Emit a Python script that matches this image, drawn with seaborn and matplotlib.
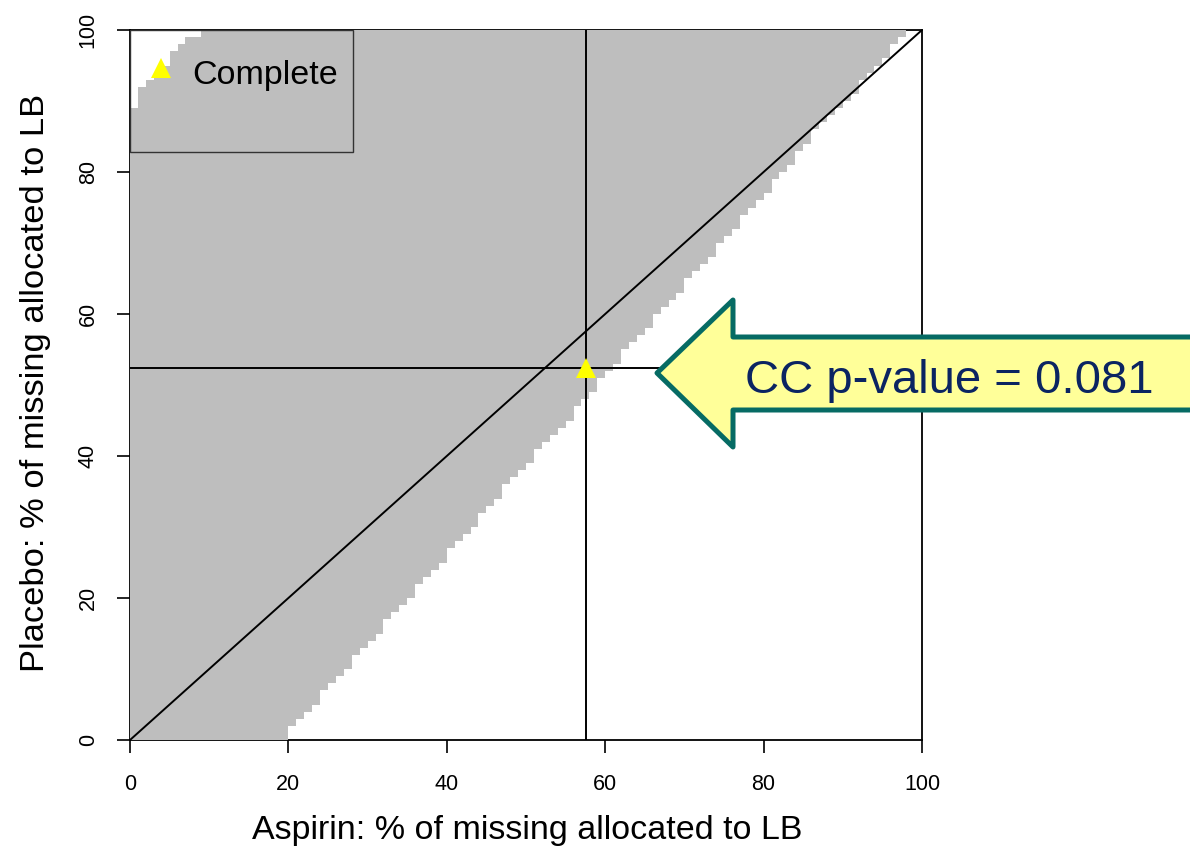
import numpy as np
import pandas as pd
import matplotlib
matplotlib.use("Agg")
import matplotlib.pyplot as plt
import seaborn as sns
from matplotlib.colors import ListedColormap
from matplotlib.patches import Polygon, Rectangle

# ---------------- data ----------------
# grid: aspirin % (x, columns 0..99) and placebo % (y, rows 0..99)
aspirin_pct = list(range(100))
placebo_pct = list(range(100))

# for each placebo row, the aspirin % where the grey (non-significant) region ends
gray_right_edge = [
    20, 20, 21, 22, 23, 24, 24, 25, 26, 27,
    28, 28, 29, 30, 31, 32, 32, 33, 34, 35,
    36, 36, 37, 38, 39, 40, 40, 41, 42, 43,
    44, 44, 45, 46, 47, 47, 48, 49, 50, 51,
    51, 52, 53, 54, 55, 56, 56, 57, 58, 59,
    59, 60, 61, 62, 62, 63, 64, 65, 66, 66,
    67, 68, 69, 70, 70, 71, 72, 73, 74, 74,
    75, 76, 77, 77, 78, 79, 80, 81, 81, 82,
    83, 84, 84, 85, 86, 86, 87, 88, 89, 90,
    91, 92, 92, 93, 94, 95, 96, 96, 97, 98,
]
# top-left corner: rows where the grey region starts to the right of 0
gray_left_rows = [88, 89, 90, 91, 92, 93, 94, 95, 96, 97, 98, 99]
gray_left_edge = [0, 1, 1, 1, 2, 3, 4, 5, 5, 6, 7, 9]

complete_aspirin = 57.6
complete_placebo = 52.4
legend_label = "Complete"
pvalue_text = "CC p-value = 0.081"

x_ticks = [0, 20, 40, 60, 80, 100]
y_ticks = [0, 20, 40, 60, 80, 100]
x_label = "Aspirin: % of missing allocated to LB"
y_label = "Placebo: % of missing allocated to LB"

# ---------------- figure ----------------
plt.rcParams["font.family"] = ["Liberation Sans", "DejaVu Sans"]

W, H = 1190, 852
fig = plt.figure(figsize=(W / 100, H / 100), dpi=100)
ax = fig.add_axes([130 / W, 1 - 740 / H, 792 / W, 710 / H])

left_start = dict(zip(gray_left_rows, gray_left_edge))
grid = np.zeros((len(placebo_pct), len(aspirin_pct)), dtype=bool)
for j, right in enumerate(gray_right_edge):
    grid[j, left_start.get(j, 0):right] = True
df = pd.DataFrame(grid.astype(float), index=placebo_pct, columns=aspirin_pct)

sns.heatmap(df, mask=~grid, cmap=ListedColormap(["#BEBEBE"]), cbar=False,
            xticklabels=False, yticklabels=False, ax=ax)
for coll in ax.collections:
    coll.set_zorder(2.6)

ax.set_xlim(0, 100)
ax.set_ylim(0, 100)
for s in ax.spines.values():
    s.set_visible(True)
    s.set_color("black")
    s.set_linewidth(1.3)
    s.set_zorder(2.5)

# reference lines
ax.plot([0, 100], [0, 100], color="black", lw=1.4, zorder=4)
ax.axvline(complete_aspirin, color="black", lw=1.4, zorder=4)
ax.axhline(complete_placebo, color="black", lw=1.4, zorder=4)
ax.plot([complete_aspirin], [complete_placebo], marker="^", color="#FFFF00",
        ms=14, mew=0, ls="none", zorder=5)

# legend (R style box)
ax.add_patch(Rectangle((0, 82.8), 28.2, 17.2, fill=False, edgecolor="#333333",
                       lw=1.0, zorder=6))
ax.plot([3.9], [94.6], marker="^", color="#FFFF00", ms=14, mew=0, ls="none",
        zorder=6, clip_on=False)
ax.text(7.9, 92.4, legend_label, fontsize=24.5, ha="left", va="baseline", zorder=6)

# ticks
ax.set_xticks(x_ticks)
ax.set_xticklabels([str(t) for t in x_ticks])
ax.set_yticks(y_ticks)
ax.set_yticklabels([str(t) for t in y_ticks])
ax.tick_params(axis="both", direction="out", length=9.5, width=1.2,
               labelsize=15.5, colors="black")
ax.tick_params(axis="x", pad=15)
ax.tick_params(axis="y", pad=13)
plt.setp(ax.get_yticklabels(), rotation=90, va="center")

ax.set_xlabel(x_label, fontsize=24.5)
ax.set_ylabel(y_label, fontsize=24.8)
ax.xaxis.set_label_coords(0.501, -0.106)
ax.yaxis.set_label_coords(-0.100, 0.503)

# block arrow annotation
def fpx(x, y):
    return (x / W, 1 - y / H)

arrow_px = [(657, 373), (733, 300), (733, 337), (1205, 337),
            (1205, 410), (733, 410), (733, 447)]
arrow = Polygon([fpx(*p) for p in arrow_px], closed=True,
                transform=fig.transFigure, facecolor="#FFFF99",
                edgecolor="#066B64", lw=3.6, joinstyle="round", zorder=10)
fig.add_artist(arrow)
fig.text(745 / W, 1 - 393 / H, pvalue_text, fontsize=34, color="#0B2462",
         ha="left", va="baseline", zorder=11)

fig.savefig("out.png", dpi=100)
